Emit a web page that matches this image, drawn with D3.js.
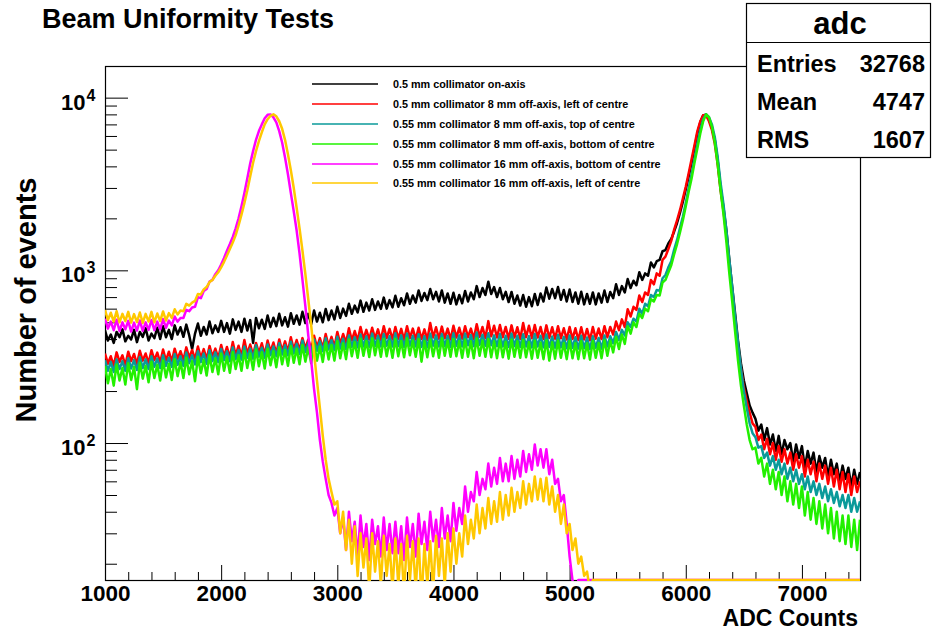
<!DOCTYPE html>
<html><head><meta charset="utf-8">
<script src="https://cdn.jsdelivr.net/npm/d3@7"></script>
<style>
body{margin:0;background:#fff}
svg{display:block}
text{font-family:"Liberation Sans",Arial,Helvetica,sans-serif;font-weight:bold;fill:#000}
</style>
</head><body><svg id="c" width="932" height="632"></svg>
<script>
// ---------- data ----------
const adcBins = d3.range(1000, 7501, 25); // bin centres (ADC counts), 261 bins

const seriesNames = [
  "0.5 mm collimator on-axis",
  "0.5 mm collimator 8 mm off-axis, left of centre",
  "0.55 mm collimator 8 mm off-axis, top of centre",
  "0.55 mm collimator 8 mm off-axis, bottom of centre",
  "0.55 mm collimator 16 mm off-axis, bottom of centre",
  "0.55 mm collimator 16 mm off-axis, left of centre"
];
const seriesColors = ["#000000", "#ff0000", "#0a9a9a", "#22f000", "#ff00ff", "#ffc800"];

// each row = 500 ADC counts (20 bins)
const onAxis = [
  450,392,425,380,440,410,455,388,418,398,452,384,440,412,462,392,430,405,465,400,
  475,410,452,400,480,425,468,412,485,420,350,430,492,418,470,425,505,432,480,440,
  510,440,495,430,520,452,505,440,525,448,515,380,530,462,518,458,548,470,532,475,
  560,480,535,472,565,490,548,485,575,495,560,488,585,505,568,500,598,515,585,520,
  615,530,600,545,640,560,625,570,668,575,650,585,680,590,660,598,695,600,672,610,
  712,615,690,628,735,640,715,650,765,665,740,672,780,680,750,660,765,650,735,640,
  742,635,720,645,760,660,745,680,810,700,790,720,860,730,800,700,790,680,750,655,
  750,640,715,625,720,615,700,620,730,630,735,660,795,685,780,690,800,675,770,660,
  775,655,745,640,752,635,730,640,745,635,735,650,765,655,750,690,830,720,810,745,
  890,790,870,820,975,880,960,930,1110,1040,1130,1150,1290,1310,1430,1520,1680,1880,2150,2500,
  2950,3500,4200,5100,6200,7200,7900,8000,7500,6700,5700,4300,3000,2300,1700,1150,800,560,390,290,
  230,195,165,150,138,118,128,104,122,98,112,90,110,86,104,92,100,78,98,82,
  96,72,90,76,88,68,84,72,82,64,80,66,76,60,74,62,72,56,70,58,
  68
];
const off8Left = [
  330,288,318,280,335,295,322,282,338,298,328,286,342,300,330,290,345,302,334,292,
  348,300,338,296,352,308,340,302,358,312,346,305,362,310,350,306,365,316,352,310,
  370,318,360,312,385,322,366,318,395,328,372,322,380,332,378,325,392,338,382,330,
  398,342,388,338,410,348,395,345,405,352,398,350,418,358,405,354,428,365,412,360,
  440,375,428,380,462,392,445,392,470,400,452,398,465,402,455,395,475,405,458,398,
  470,402,458,396,475,405,460,398,465,400,455,396,495,408,468,402,472,404,460,398,
  478,408,465,402,475,410,460,400,488,412,470,405,508,415,478,408,482,410,470,402,
  480,408,468,400,495,410,478,405,482,408,470,400,480,406,468,402,475,404,462,398,
  470,400,462,395,468,398,458,394,470,402,460,400,475,410,470,425,505,450,520,470,
  595,540,615,590,715,655,745,720,880,830,960,930,1150,1200,1330,1480,1720,1950,2230,2600,
  3050,3650,4400,5300,6400,7300,7900,7900,7300,6500,5400,4100,2900,2200,1600,1100,760,520,360,270,
  210,175,150,130,124,104,112,92,106,86,100,80,96,78,92,76,88,70,86,72,
  84,64,80,66,78,60,76,62,74,58,72,56,70,54,68,52,66,50,64,52,
  60
];
const off8Top = [
  302,262,295,258,305,268,298,262,310,270,302,265,315,272,305,268,318,276,308,272,
  322,280,312,276,328,284,318,280,334,290,322,285,340,294,330,288,345,298,335,294,
  350,302,340,298,358,306,346,304,362,312,352,308,368,316,356,312,372,322,362,318,
  378,325,368,322,386,330,375,328,392,336,380,334,398,342,388,340,404,348,394,345,
  412,352,402,350,420,360,410,358,425,362,415,360,430,364,418,362,428,366,416,362,
  432,364,420,360,430,366,418,362,426,360,416,358,430,366,420,362,428,364,418,360,
  432,366,420,362,430,368,422,364,436,370,424,366,432,368,420,364,428,362,418,360,
  430,364,418,360,426,362,416,358,428,362,418,358,425,360,414,356,422,358,412,354,
  420,356,410,352,418,354,408,350,415,356,406,352,420,362,415,378,440,395,452,420,
  500,470,525,505,600,560,640,620,720,700,770,760,900,940,1040,1130,1320,1500,1760,2050,
  2450,3000,3600,4400,5400,6500,7500,8000,7700,7000,5900,4500,3200,2400,1700,1150,800,540,380,270,
  200,160,130,114,108,94,96,82,88,74,84,70,80,66,76,62,72,60,70,58,
  66,54,64,52,60,50,58,48,56,46,54,45,52,43,50,42,50,40,48,40,
  46
];
const off8Bottom = [
  280,222,268,215,285,230,272,218,290,232,276,205,292,236,280,225,296,238,284,230,
  300,240,288,232,306,244,294,238,312,250,298,228,316,254,304,246,322,258,310,250,
  330,262,316,255,336,268,322,262,342,272,330,266,348,278,336,270,352,282,340,275,
  358,286,346,280,364,292,352,286,370,296,358,290,376,300,362,295,382,305,370,300,
  390,310,378,306,398,318,384,312,402,320,390,315,404,322,392,316,400,318,388,312,
  402,318,390,314,404,322,392,316,400,296,390,314,398,318,388,312,404,320,392,316,
  400,318,390,312,398,316,388,310,404,320,392,316,400,314,388,310,396,314,386,308,
  398,316,388,312,395,314,384,308,392,312,382,306,394,300,384,308,392,312,380,306,
  390,310,380,306,388,310,378,304,390,312,380,310,395,320,392,335,412,350,425,375,
  475,430,500,470,560,530,600,580,680,660,720,715,850,880,970,1070,1240,1420,1660,1950,
  2350,2850,3400,4200,5100,6200,7300,8000,7700,6800,5500,4100,2900,2100,1450,960,660,440,300,215,
  165,128,104,92,94,76,82,64,76,58,70,54,68,50,64,46,60,44,58,42,
  56,38,52,36,48,34,46,32,44,30,42,28,40,27,38,26,38,25,36,24,
  36
];
const off16Bottom = [
  525,460,505,450,518,445,500,455,510,442,498,448,512,446,500,452,515,450,505,455,
  522,465,512,480,540,505,530,530,590,580,610,615,700,690,760,780,860,880,950,1000,
  1080,1180,1300,1420,1560,1750,2000,2350,2800,3400,4150,4900,5700,6400,7000,7600,7950,8000,7700,7200,
  6400,5500,4500,3600,2800,2200,1700,1250,880,620,420,300,205,150,104,78,62,50,45,38,
  42,30,37,24,40,27,35,22,38,25,34,21,36,26,33,22,37,24,34,23,
  35,23,33,21,37,25,34,22,39,26,35,24,40,27,36,25,42,28,38,27,
  45,31,42,34,56,40,52,46,68,50,62,54,76,56,72,58,82,60,76,60,
  84,62,80,64,90,68,86,70,98,74,92,72,92,66,80,58,62,46,50,34,
  22,16,12,0,0,0,0,0,0,0,0,0,0,0,0,0,0,0,0,0,
  0,0,0,0,0,0,0,0,0,0,0,0,0,0,0,0,0,0,0,0,
  0,0,0,0,0,0,0,0,0,0,0,0,0,0,0,0,0,0,0,0,
  0,0,0,0,0,0,0,0,0,0,0,0,0,0,0,0,0,0,0,0,
  0,0,0,0,0,0,0,0,0,0,0,0,0,0,0,0,0,0,0,0,
  0
];
const off16Left = [
  590,515,568,505,580,500,560,508,575,498,558,502,570,496,560,505,575,500,562,508,
  578,512,565,530,595,555,585,580,640,625,650,665,730,725,775,800,855,880,930,975,
  1040,1120,1220,1330,1450,1600,1820,2100,2450,2900,3500,4200,4900,5600,6300,7000,7500,7850,8000,7800,
  7300,6600,5700,4700,3800,3000,2300,1750,1300,950,680,480,330,230,160,110,80,62,52,44,
  46,30,40,24,36,20,33,17,30,19,28,14,30,18,27,15,29,17,26,14,
  28,15,26,13,29,16,27,14,28,12,26,15,27,14,29,17,28,15,30,18,
  32,20,30,22,38,26,36,28,44,30,42,32,48,34,46,35,52,36,50,38,
  55,40,52,42,60,44,58,46,64,47,62,46,63,44,56,40,50,34,44,30,
  34,24,28,20,22,17,18,14,0,0,0,0,0,0,0,0,0,0,0,0,
  0,0,0,0,0,0,0,0,0,0,0,0,0,0,0,0,0,0,0,0,
  0,0,0,0,0,0,0,0,0,0,0,0,0,0,0,0,0,0,0,0,
  0,0,0,0,0,0,0,0,0,0,0,0,0,0,0,0,0,0,0,0,
  0,0,0,0,0,0,0,0,0,0,0,0,0,0,0,0,0,0,0,0,
  0
];
const seriesValues = [onAxis, off8Left, off8Top, off8Bottom, off16Bottom, off16Left];

const xMajorTicks = [1000, 2000, 3000, 4000, 5000, 6000, 7000];
const xMinorTicks = [1200,1400,1600,1800,2200,2400,2600,2800,3200,3400,3600,3800,4200,4400,4600,4800,
                     5200,5400,5600,5800,6200,6400,6600,6800,7200,7400];
const yMajorTicks = [100, 1000, 10000];
const yMajorExp = ["2", "3", "4"];
const yMinorTicks = [20,30,40,50,60,70,80,90,200,300,400,500,600,700,800,900,
                     2000,3000,4000,5000,6000,7000,8000,9000];

const titleText = "Beam Uniformity Tests";
const xTitle = "ADC Counts";
const yTitle = "Number of events";
const statsName = "adc";
const statsRows = [["Entries", "32768"], ["Mean", "4747"], ["RMS", "1607"]];

// ---------- layout ----------
const L = 105, R = 860, T = 66, B = 580;
const svg = d3.select("#c");
const x = d3.scaleLinear().domain([1000, 7500]).range([L, R]);
const y = d3.scaleLog().domain([16.1, 15250]).range([B, T]);

svg.append("rect").attr("width", 932).attr("height", 632).attr("fill", "#fff");

// frame (drawn first, data overlaps it as in the original)
svg.append("rect").attr("x", L + 0.5).attr("y", T + 0.5).attr("width", R - L).attr("height", B - T)
  .attr("fill", "none").attr("stroke", "#000").attr("stroke-width", 1.2);

// axes (ticks inward)
const xMajor = d3.axisBottom(x).tickValues(xMajorTicks).tickSizeInner(-15).tickSizeOuter(0).tickPadding(2).tickFormat(d3.format("d"));
const gx = svg.append("g").attr("transform", `translate(0,${B})`).call(xMajor);
gx.select(".domain").remove();
gx.selectAll("text").attr("font-size", 22.5).attr("dy", "0.85em")
  .style("font-family", '"Liberation Sans",Arial,sans-serif').style("font-weight", "bold");
const xMinor = d3.axisBottom(x).tickValues(xMinorTicks).tickSizeInner(-8).tickSizeOuter(0).tickFormat("");
const gx2 = svg.append("g").attr("transform", `translate(0,${B})`).call(xMinor);
gx2.select(".domain").remove();

const yMajor = d3.axisLeft(y).tickValues(yMajorTicks).tickSizeInner(-23).tickSizeOuter(0).tickFormat("");
const gy = svg.append("g").attr("transform", `translate(${L},0)`).call(yMajor);
gy.select(".domain").remove();
const yMinor = d3.axisLeft(y).tickValues(yMinorTicks).tickSizeInner(-12).tickSizeOuter(0).tickFormat("");
const gy2 = svg.append("g").attr("transform", `translate(${L},0)`).call(yMinor);
gy2.select(".domain").remove();
svg.selectAll(".tick line").attr("stroke", "#000").attr("stroke-width", 1);

// clip
svg.append("defs").append("clipPath").attr("id", "plotclip")
  .append("rect").attr("x", L).attr("y", T).attr("width", R - L).attr("height", B - T + 1);

// data lines
const line = d3.line()
  .x((d, i) => x(adcBins[i]))
  .y(d => d > 0 ? y(d) : B);

const gData = svg.append("g").attr("clip-path", "url(#plotclip)");
seriesValues.forEach((vals, k) => {
  gData.append("path")
    .attr("d", line(vals))
    .attr("fill", "none")
    .attr("stroke", seriesColors[k])
    .attr("stroke-width", 2.5)
    .attr("stroke-linejoin", "round");
});

// y labels 10^n
yMajorTicks.forEach((v, i) => {
  const t = svg.append("text").attr("x", 61).attr("y", y(v) + 12).attr("font-size", 22);
  t.append("tspan").text("10");
  t.append("tspan").attr("font-size", 16).attr("dx", 1).attr("dy", -9).text(yMajorExp[i]);
});

// axis titles
svg.append("text").attr("x", 858).attr("y", 626).attr("text-anchor", "end").attr("font-size", 23).text(xTitle);
svg.append("text").attr("transform", `translate(36,300) rotate(-90)`).attr("text-anchor", "middle")
  .attr("font-size", 29).text(yTitle);

// title
svg.append("text").attr("x", 42).attr("y", 28).attr("font-size", 27).text(titleText);

// legend
const legY = [84, 104, 124, 144, 164, 183];
seriesNames.forEach((name, k) => {
  svg.append("line").attr("x1", 312).attr("x2", 378).attr("y1", legY[k]).attr("y2", legY[k])
    .attr("stroke", seriesColors[k]).attr("stroke-width", 1.6);
  svg.append("text").attr("x", 393).attr("y", legY[k] + 4).attr("font-size", 10.8).text(name);
});

// stats box
const sb = svg.append("g");
sb.append("rect").attr("x", 746.5).attr("y", 3.5).attr("width", 184).attr("height", 154)
  .attr("fill", "#fff").attr("stroke", "#000").attr("stroke-width", 1.2);
sb.append("line").attr("x1", 746.5).attr("x2", 930.5).attr("y1", 42.5).attr("y2", 42.5)
  .attr("stroke", "#000").attr("stroke-width", 1.2);
sb.append("text").attr("x", 840).attr("y", 34).attr("text-anchor", "middle").attr("font-size", 31).text(statsName);
statsRows.forEach((r, i) => {
  const yy = 72 + i * 38;
  sb.append("text").attr("x", 757).attr("y", yy).attr("font-size", 23.5).text(r[0]);
  sb.append("text").attr("x", 925).attr("y", yy).attr("text-anchor", "end").attr("font-size", 23.5).text(r[1]);
});
</script>
</body></html>
